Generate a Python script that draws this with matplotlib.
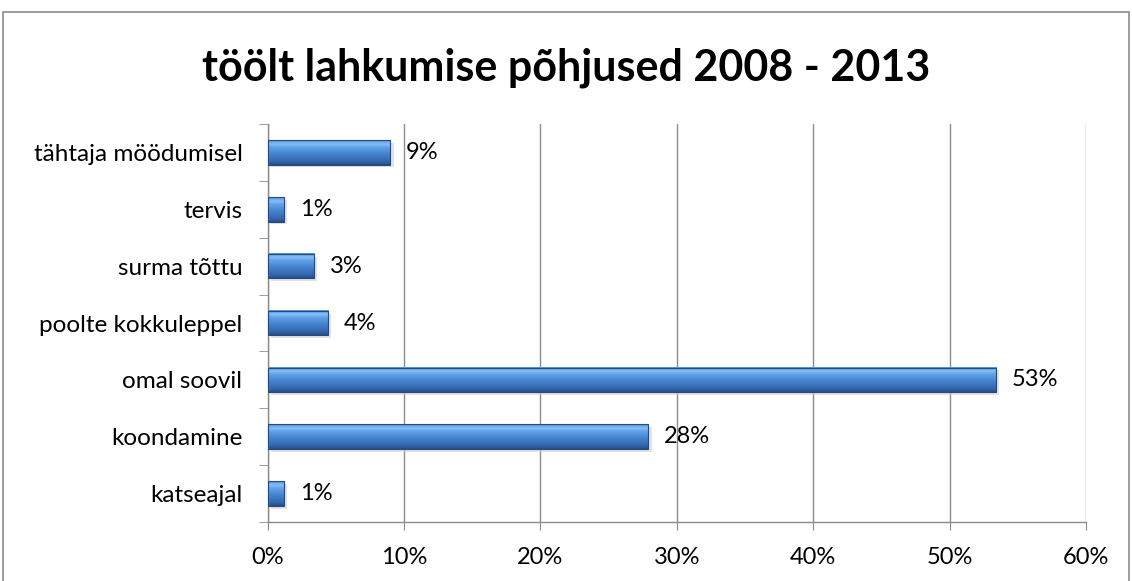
import matplotlib
matplotlib.use("Agg")
import matplotlib.pyplot as plt
import numpy as np
from matplotlib.patches import Rectangle
from matplotlib.colors import LinearSegmentedColormap

categories = ["katseajal", "koondamine", "omal soovil", "poolte kokkuleppel",
              "surma tõttu", "tervis", "tähtaja möödumisel"]
values = [1.2, 27.9, 53.4, 4.4, 3.4, 1.2, 9.0]
xticks = [0, 10, 20, 30, 40, 50, 60]
title = "töölt lahkumise põhjused 2008 - 2013"

plt.rcParams['font.family'] = ['Lato', 'DejaVu Sans']

W, H = 1132, 581
fig = plt.figure(figsize=(W / 100, H / 100), dpi=100)
fig.patch.set_facecolor("white")

# outer chart border
fig.add_artist(Rectangle((3 / W, -0.01), (W - 6) / W, (H - 12) / H + 0.01,
                         transform=fig.transFigure, fill=False,
                         edgecolor="#8c8c8c", linewidth=1.2))

ax = fig.add_axes([267.5 / W, 1 - 522 / H, (1086 - 267.5) / W, (522 - 124) / H])
ax.set_xlim(0, 60)
ax.set_ylim(-0.5, len(categories) - 0.5)

y = np.arange(len(categories))
bh = 0.43
grad = np.linspace(0, 1, 64).reshape(-1, 1)
cmap = LinearSegmentedColormap.from_list(
    "bev", [(0, "#254f86"), (0.15, "#3468ae"), (0.45, "#4584d0"),
            (0.72, "#62a2e8"), (0.84, "#86bff6"), (1.0, "#5593dc")])

for yi, v in zip(y, values):
    # subtle shadow
    ax.barh(yi - 0.05, v, height=bh, left=0.25, color="#cfcfcf", alpha=0.6,
            zorder=1, linewidth=0)
    ax.imshow(grad, extent=[0, v, yi - bh / 2, yi + bh / 2], origin="lower",
              cmap=cmap, aspect="auto", zorder=2, interpolation="bilinear")
    ax.annotate(f"{v:.0f}%", xy=(v, yi), xytext=(11.5, 0),
                textcoords="offset points", va="center", ha="left",
                fontsize=17, color="black")
ax.barh(y, values, height=bh, color="none", edgecolor="#244a7e",
        linewidth=0.8, zorder=3)

ax.set_xticks(xticks)
ax.set_xticklabels([f"{t}%" for t in xticks], fontsize=17)
ax.set_yticks(y)
ax.set_yticklabels(categories, fontsize=17.5)
ax.set_yticks(np.arange(len(categories) + 1) - 0.5, minor=True)
ax.tick_params(axis="y", which="major", length=0, pad=18)
ax.tick_params(axis="y", which="minor", length=6.5, color="#8c8c8c")
ax.tick_params(axis="x", which="major", length=6, color="#8c8c8c", pad=12)

ax.grid(axis="x", color="#8c8c8c", linewidth=1.0, zorder=0)
ax.set_axisbelow(True)
for s in ["top", "right"]:
    ax.spines[s].set_visible(False)
for s in ["left", "bottom"]:
    ax.spines[s].set_color("#8c8c8c")
    ax.spines[s].set_linewidth(1.0)

fig.text(0.5, 1 - 68 / H, title, ha="center", va="center",
         fontsize=31, fontweight="bold")

fig.savefig("out.png", dpi=100)
